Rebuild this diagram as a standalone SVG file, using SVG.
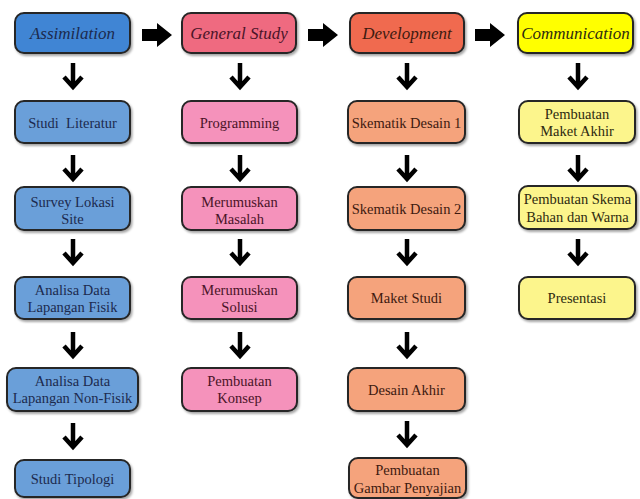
<svg xmlns="http://www.w3.org/2000/svg" width="640" height="499" viewBox="0 0 640 499">
<defs>
<filter id="sh" x="-10%" y="-10%" width="130%" height="140%">
<feDropShadow dx="1.5" dy="2" stdDeviation="1.2" flood-color="#000" flood-opacity="0.35"/>
</filter>
<path id="dn" d="M0,-13 V10 M-9,1 L0,11 L9,1" fill="none" stroke="#000" stroke-width="4.5" stroke-linejoin="miter" stroke-linecap="butt"/>
<path id="rt" d="M0,-6 H15 V-12 L30,0 L15,12 V6 H0 Z" fill="#000"/>
</defs>
<style>
rect{stroke:#262626;stroke-width:2;filter:url(#sh)}
text{text-anchor:middle;dominant-baseline:central}
.h{font-size:17px;font-style:italic}
.t{font-size:14.5px}
.c1{fill:#1c2a4e}.c2{fill:#4a1428}.c3{fill:#3e1a10}.c4{fill:#2e2a10}
.hb1{fill:#3f85d4}.hb2{fill:#ef6b80}.hb3{fill:#f06a50}.hb4{fill:#ffff00}
.b1{fill:#6b9fd9}.b2{fill:#f592bb}.b3{fill:#f5a37c}.b4{fill:#fcf58c}
</style>
<rect width="640" height="499" fill="#fff" style="stroke:none;filter:none"/>

<g id="connectors">
<use href="#rt" x="142" y="35"/>
<use href="#rt" x="308" y="35"/>
<use href="#rt" x="475" y="35"/>
<use href="#dn" x="73" y="76"/>
<use href="#dn" x="73" y="168"/>
<use href="#dn" x="73" y="252"/>
<use href="#dn" x="73" y="345"/>
<use href="#dn" x="73" y="436"/>
<use href="#dn" x="240" y="76"/>
<use href="#dn" x="240" y="168"/>
<use href="#dn" x="240" y="252"/>
<use href="#dn" x="240" y="345"/>
<use href="#dn" x="407" y="76"/>
<use href="#dn" x="407" y="168"/>
<use href="#dn" x="407" y="252"/>
<use href="#dn" x="407" y="345"/>
<use href="#dn" x="407" y="434"/>
<use href="#dn" x="578" y="76"/>
<use href="#dn" x="578" y="168"/>
<use href="#dn" x="578" y="252"/>
</g>

<g font-family="'Liberation Serif', 'DejaVu Serif', 'Times New Roman', serif">
<g id="assimilation"><rect class="hb1" x="15" y="13" width="115" height="40" rx="9"/><text class="h c1" x="72.5" y="33">Assimilation</text></g>
<g id="general-study"><rect class="hb2" x="182" y="13" width="114" height="40" rx="9"/><text class="h c2" x="239" y="33">General Study</text></g>
<g id="development"><rect class="hb3" x="350" y="13" width="114" height="40" rx="9"/><text class="h c3" x="407" y="33">Development</text></g>
<g id="communication"><rect class="hb4" x="518" y="13" width="115" height="40" rx="9"/><text class="h c4" x="575.5" y="33">Communication</text></g>

<g id="studi-literatur"><rect class="b1" x="15" y="101" width="115" height="42" rx="9"/><text class="t c1" x="72.5" y="122.5" xml:space="preserve">Studi  Literatur</text></g>
<g id="survey-lokasi"><rect class="b1" x="15" y="187" width="115" height="43" rx="9"/><text class="t c1" x="72.5" y="202">Survey Lokasi</text><text class="t c1" x="72.5" y="219">Site</text></g>
<g id="analisa-fisik"><rect class="b1" x="15" y="277" width="115" height="42" rx="9"/><text class="t c1" x="72.5" y="290">Analisa Data</text><text class="t c1" x="72.5" y="307">Lapangan Fisik</text></g>
<g id="analisa-nonfisik"><rect class="b1" x="7" y="368" width="131" height="43" rx="9"/><text class="t c1" x="72.5" y="381">Analisa Data</text><text class="t c1" x="72.5" y="398">Lapangan Non-Fisik</text></g>
<g id="studi-tipologi"><rect class="b1" x="15" y="460" width="115" height="37" rx="9"/><text class="t c1" x="72.5" y="479">Studi Tipologi</text></g>

<g id="programming"><rect class="b2" x="182" y="101" width="115" height="42" rx="9"/><text class="t c2" x="239.5" y="122.5">Programming</text></g>
<g id="merumuskan-masalah"><rect class="b2" x="182" y="187" width="115" height="43" rx="9"/><text class="t c2" x="239.5" y="202">Merumuskan</text><text class="t c2" x="239.5" y="219">Masalah</text></g>
<g id="merumuskan-solusi"><rect class="b2" x="182" y="277" width="115" height="42" rx="9"/><text class="t c2" x="239.5" y="290">Merumuskan</text><text class="t c2" x="239.5" y="307">Solusi</text></g>
<g id="pembuatan-konsep"><rect class="b2" x="182" y="368" width="115" height="43" rx="9"/><text class="t c2" x="239.5" y="381">Pembuatan</text><text class="t c2" x="239.5" y="398">Konsep</text></g>

<g id="skematik-1"><rect class="b3" x="348" y="101" width="117" height="42" rx="9"/><text class="t c3" x="406.5" y="122.5">Skematik Desain 1</text></g>
<g id="skematik-2"><rect class="b3" x="348" y="187" width="117" height="43" rx="9"/><text class="t c3" x="406.5" y="208.5">Skematik Desain 2</text></g>
<g id="maket-studi"><rect class="b3" x="348" y="277" width="117" height="42" rx="9"/><text class="t c3" x="406.5" y="298">Maket Studi</text></g>
<g id="desain-akhir"><rect class="b3" x="348" y="368" width="117" height="43" rx="9"/><text class="t c3" x="406.5" y="389.5">Desain Akhir</text></g>
<g id="gambar-penyajian"><rect class="b3" x="349" y="458" width="117" height="40" rx="9"/><text class="t c3" x="407.5" y="470">Pembuatan</text><text class="t c3" x="407.5" y="487.5">Gambar Penyajian</text></g>

<g id="maket-akhir"><rect class="b4" x="519" y="101" width="116" height="42" rx="9"/><text class="t c4" x="577" y="113.5">Pembuatan</text><text class="t c4" x="577" y="130.5">Maket Akhir</text></g>
<g id="skema-bahan"><rect class="b4" x="519" y="186" width="117" height="43" rx="9"/><text class="t c4" x="577.5" y="199">Pembuatan Skema</text><text class="t c4" x="577.5" y="216.5">Bahan dan Warna</text></g>
<g id="presentasi"><rect class="b4" x="519" y="277" width="116" height="42" rx="9"/><text class="t c4" x="577" y="298">Presentasi</text></g>
</g>
</svg>
